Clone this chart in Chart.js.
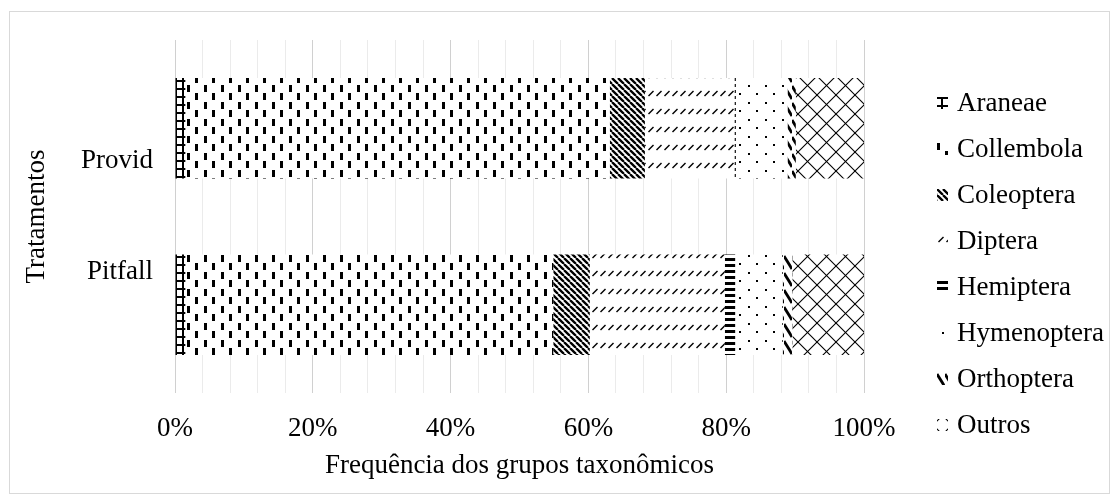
<!DOCTYPE html>
<html><head><meta charset="utf-8">
<script src="https://cdn.jsdelivr.net/npm/chart.js@4"></script>
<style>html,body{margin:0;padding:0;background:#fff}canvas{display:block}</style>
</head><body>
<canvas id="c" width="1119" height="504"></canvas>
<script>
// ---- data ----
const categories = ['Provid', 'Pitfall'];
const seriesNames = ['Araneae', 'Collembola', 'Coleoptera', 'Diptera', 'Hemiptera', 'Hymenoptera', 'Orthoptera', 'Outros'];
const araneae     = [1.5, 1.5];
const collembola  = [61.6, 53.4];
const coleoptera  = [5.1, 5.3];
const diptera     = [13.0, 19.6];
const hemiptera   = [0.2, 1.5];
const hymenoptera = [7.5, 6.9];
const orthoptera  = [1.2, 1.4];
const outros      = [9.9, 10.4];
const xTickLabels = [0, 20, 40, 60, 80, 100];
const xMinorStep = 4;
const seriesData = [araneae, collembola, coleoptera, diptera, hemiptera, hymenoptera, orthoptera, outros];

const FONT = '"Liberation Serif", "Times New Roman", serif';
const FS = 27;
Chart.defaults.font.family = FONT;
Chart.defaults.color = '#000';

const canvas = document.getElementById('c');
const ctx = canvas.getContext('2d');

function pat(w, h, fn) {
  const c = document.createElement('canvas');
  c.width = w; c.height = h;
  const g = c.getContext('2d');
  g.fillStyle = '#fff'; g.fillRect(0, 0, w, h);
  g.fillStyle = '#000'; g.strokeStyle = '#000';
  fn(g, w, h);
  return ctx.createPattern(c, 'repeat');
}
function diag(g, s, h, down) {
  g.beginPath();
  for (let k = -2; k <= 2; k++) {
    if (down) { g.moveTo(k * s, 0); g.lineTo(k * s + h, h); }
    else { g.moveTo(k * s + h, 0); g.lineTo(k * s, h); }
  }
  g.stroke();
}
const patterns = [
  pat(7, 8, (g, w, h) => { g.fillRect(0, 0, 2, h); g.fillRect(0, 0, w, 2); }),          // Araneae
  pat(17, 17, (g) => { g.fillRect(0, 0, 3, 7); g.fillRect(8, 8, 3, 7); }),               // Collembola
  pat(6, 6, (g) => { g.lineWidth = 2.3; diag(g, 6, 6, true); }),                          // Coleoptera
  pat(8, 18, (g) => { g.lineWidth = 1.4; g.beginPath(); g.moveTo(0.5, 6); g.lineTo(5.5, 1); g.stroke(); }), // Diptera
  pat(8, 6, (g) => { g.fillRect(0, 0, 8, 3); }),                                          // Hemiptera
  pat(17, 17, (g) => { g.fillRect(0, 0, 2, 2); g.fillRect(8, 8, 2, 2); }),               // Hymenoptera
  pat(8, 17, (g) => { g.lineWidth = 2.8; g.beginPath(); g.moveTo(0, 1); g.lineTo(8, 14); g.stroke(); }), // Orthoptera
  pat(19, 19, (g) => { g.lineWidth = 1.1; diag(g, 19, 19, true); diag(g, 19, 19, false); }) // Outros
];
// pattern phase used for the small legend keys
const keyPhase = [[-4, 0], [0, 0], [0, 0], [-1, -1], [0, 0], [3, 3], [0, 0], [4, -6]];

const frame = {
  id: 'frame',
  beforeDraw(chart) {
    const c = chart.ctx;
    c.save();
    c.fillStyle = '#fff';
    c.fillRect(0, 0, chart.width, chart.height);
    c.strokeStyle = '#d9d9d9';
    c.lineWidth = 1;
    c.strokeRect(9.5, 11.5, 1100, 482);
    c.restore();
  }
};

const sideLegend = {
  id: 'sideLegend',
  afterDraw(chart) {
    const c = chart.ctx;
    c.save();
    c.font = FS + 'px ' + FONT;
    c.textBaseline = 'middle';
    c.textAlign = 'left';
    chart.data.datasets.forEach((ds, i) => {
      const cy = 103 + i * 46;
      const [ox, oy] = keyPhase[i];
      c.save();
      c.translate(937 - ox, cy - 6 - oy);
      c.fillStyle = ds.backgroundColor;
      c.fillRect(ox, oy, 11, 12);
      c.restore();
      c.fillStyle = '#000';
      c.fillText(ds.label, 957, cy + 1);
    });
    c.restore();
  }
};

new Chart(ctx, {
  type: 'bar',
  data: {
    labels: categories,
    datasets: seriesNames.map((name, i) => ({
      label: name,
      data: seriesData[i],
      backgroundColor: patterns[i],
      borderWidth: 0,
      barPercentage: 0.57,
      categoryPercentage: 1
    }))
  },
  options: {
    indexAxis: 'y',
    responsive: false,
    animation: false,
    layout: { padding: { left: 0, right: 255, top: 40, bottom: 0 } },
    plugins: { legend: { display: false }, tooltip: { enabled: false } },
    scales: {
      x: {
        stacked: true, min: 0, max: 100,
        border: { display: false },
        grid: {
          drawTicks: false, lineWidth: 1,
          color: (c) => (c.tick && Math.round(c.tick.value) % 20 === 0) ? '#d0d0d0' : '#ebebeb'
        },
        ticks: {
          stepSize: xMinorStep, autoSkip: false, maxRotation: 0, padding: 20,
          font: { size: FS },
          callback: (v) => xTickLabels.includes(Math.round(v)) ? Math.round(v) + '%' : ''
        },
        title: { display: true, text: 'Frequência dos grupos taxonômicos', font: { size: FS }, padding: { top: 0, bottom: 22 } },
        afterFit: (s) => { s.height = 111; s.paddingLeft = 0; s.paddingRight = 0; }
      },
      y: {
        stacked: true,
        border: { display: false },
        grid: { display: false, drawTicks: false },
        ticks: {
          padding: 22, font: { size: FS },
          callback: (v, i) => i < categories.length / 2 ? ['', '', categories[i]] : [categories[i], '', '']
        },
        title: { display: true, text: 'Tratamentos', font: { size: FS }, padding: { top: 21, bottom: 0 } },
        afterFit: (s) => { s.width = 175; s.paddingTop = 0; s.paddingBottom = 0; }
      }
    }
  },
  plugins: [frame, sideLegend]
});
</script>
</body></html>
